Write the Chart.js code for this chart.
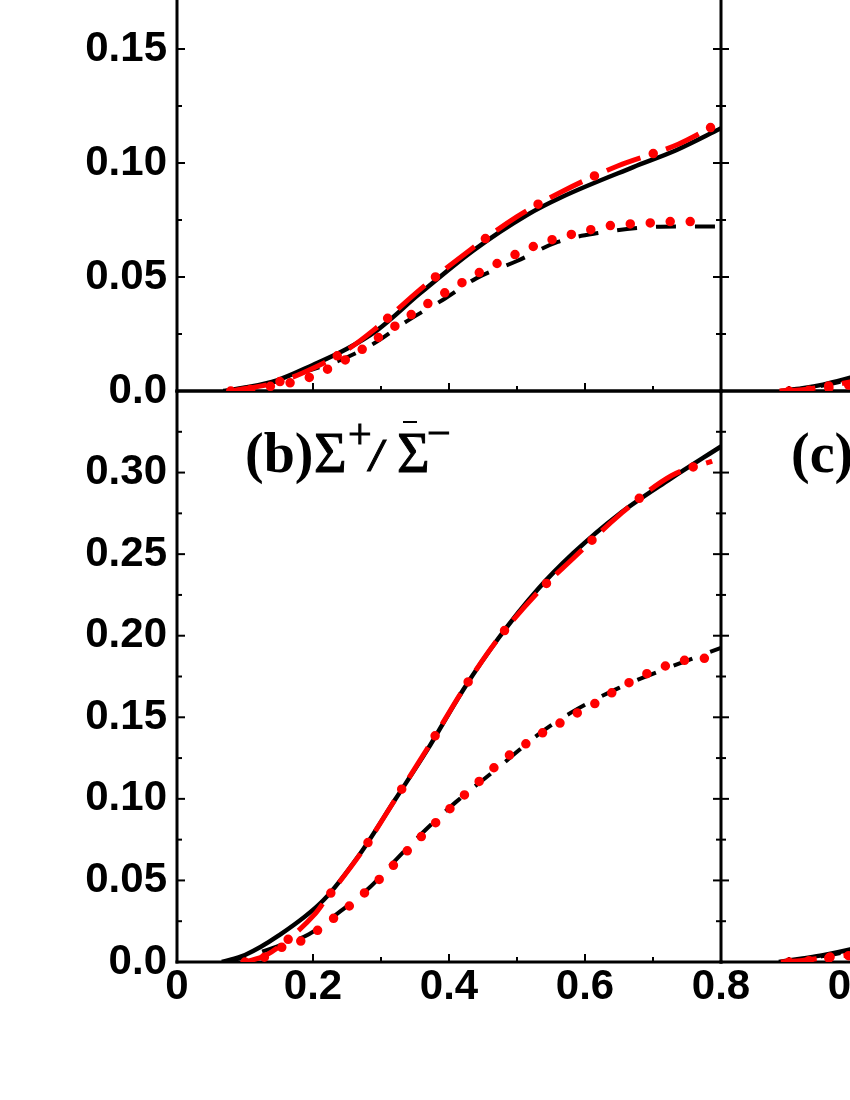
<!DOCTYPE html>
<html><head><meta charset="utf-8">
<script src="https://cdn.jsdelivr.net/npm/chart.js@4.4.1/dist/chart.umd.min.js"></script>
<style>
html,body{margin:0;padding:0;width:850px;height:1100px;overflow:hidden;background:#fff;position:relative;}
canvas{position:absolute;}
.t{position:absolute;font-family:'Liberation Serif','Times New Roman',serif;line-height:1;white-space:nowrap;color:#000;z-index:10;}
.s{-webkit-text-stroke:1px #000;}
.bar{position:absolute;border-top:2px solid #000;z-index:10;}
</style></head><body>
<canvas id="tl" width="761" height="556" style="left:0;top:-115px;z-index:2"></canvas>
<canvas id="bl" width="761" height="759" style="left:0;top:341px;z-index:1"></canvas>
<canvas id="tr" width="606" height="556" style="left:700px;top:-115px;z-index:4"></canvas>
<canvas id="br" width="606" height="759" style="left:700px;top:341px;z-index:3"></canvas>

<span class="t" style="left:245px;top:425px;font-size:56px;font-weight:bold;">(b)</span>
<span class="t s" style="left:314px;top:425px;font-size:56px;">Σ</span>
<span class="t s" style="left:348px;top:413px;font-size:42px;">+</span>
<span class="t s" style="left:370px;top:433px;font-size:46px;font-weight:bold;font-style:italic;">/</span>
<span class="t s" style="left:397px;top:425px;font-size:56px;">Σ</span>
<div class="bar" style="left:403px;top:421px;width:14px;"></div>
<span class="t s" style="left:427px;top:412px;font-size:42px;">−</span>
<span class="t" style="left:791px;top:425px;font-size:56px;font-weight:bold;">(c)</span>

<script>
// ---------- data ----------
const xTickValues = [0, 0.2, 0.4, 0.6, 0.8];

// panel (a) top-left
const aSolidX = [0.068, 0.10, 0.147, 0.199, 0.25, 0.294, 0.357, 0.436, 0.514, 0.566, 0.671, 0.734, 0.80];
const aSolidY = [0, 0.0015, 0.0047, 0.0113, 0.0185, 0.0266, 0.0427, 0.0617, 0.0771, 0.0851, 0.0982, 0.1056, 0.1152];
const aDashDotX = [0.08, 0.15, 0.2, 0.25, 0.29, 0.359, 0.432, 0.50, 0.565, 0.648, 0.737, 0.797];
const aDashDotY = [0, 0.004, 0.010, 0.018, 0.0269, 0.0449, 0.0621, 0.0765, 0.0873, 0.0987, 0.1082, 0.1175];
const aDashX = [0.07, 0.12, 0.195, 0.24, 0.29, 0.34, 0.39, 0.44, 0.50, 0.56, 0.62, 0.69, 0.744, 0.80];
const aDashY = [0, 0.002, 0.0091, 0.0135, 0.0209, 0.031, 0.0398, 0.0494, 0.057, 0.0654, 0.0693, 0.0718, 0.0722, 0.0722];
const aDotX = [0.079, 0.108, 0.136, 0.165, 0.193, 0.22, 0.245, 0.27, 0.294, 0.317, 0.341, 0.365, 0.39, 0.415, 0.44, 0.466, 0.492, 0.525, 0.552, 0.58, 0.609, 0.638, 0.667, 0.696, 0.725, 0.754, 0.782];
const aDotY = [0, 0.0006, 0.002, 0.0035, 0.0058, 0.0094, 0.0132, 0.0178, 0.023, 0.0277, 0.0328, 0.0376, 0.0424, 0.0468, 0.0512, 0.0552, 0.0591, 0.0635, 0.0664, 0.0687, 0.0708, 0.0726, 0.0733, 0.0737, 0.0743, 0.0743, 0.0752];

// panel (b) bottom-left
const bSolidX = [0.066, 0.10, 0.147, 0.2156, 0.268, 0.3206, 0.368, 0.421, 0.473, 0.530, 0.583, 0.649, 0.724, 0.80];
const bSolidY = [0, 0.0043, 0.0155, 0.038, 0.0656, 0.0994, 0.130, 0.1669, 0.1986, 0.2282, 0.2507, 0.2742, 0.2957, 0.316];
const bDashDotX = [0.10, 0.13, 0.168, 0.202, 0.2166, 0.272, 0.322, 0.3715, 0.419, 0.472, 0.532, 0.582, 0.65, 0.7276, 0.787];
const bDashDotY = [0, 0.004, 0.0155, 0.029, 0.037, 0.0677, 0.1004, 0.1331, 0.1658, 0.198, 0.2272, 0.2472, 0.2738, 0.2982, 0.307];
const bDashX = [0.07, 0.10, 0.15, 0.194, 0.24, 0.284, 0.325, 0.368, 0.41, 0.472, 0.533, 0.58, 0.65, 0.72, 0.80];
const bDashY = [0, 0.003, 0.010, 0.017, 0.031, 0.046, 0.064, 0.082, 0.098, 0.119, 0.140, 0.153, 0.168, 0.180, 0.1925];
const bDotX = [0.10, 0.129, 0.154, 0.1825, 0.206, 0.229, 0.251, 0.274, 0.2955, 0.3165, 0.336, 0.357, 0.377, 0.398, 0.419, 0.44, 0.461, 0.483, 0.507, 0.531, 0.545, 0.57, 0.595, 0.62, 0.645, 0.67, 0.696, 0.7235, 0.751, 0.78];
const bDotY = [0, 0.003, 0.009, 0.0129, 0.0192, 0.0264, 0.0335, 0.0417, 0.0499, 0.0585, 0.067, 0.0759, 0.084, 0.0926, 0.101, 0.109, 0.1172, 0.125, 0.132, 0.1387, 0.1423, 0.148, 0.1542, 0.1597, 0.1665, 0.1724, 0.1777, 0.1822, 0.1853, 0.1863];

// top-right panel (visible part only)
const trSolidX = [0.088, 0.12, 0.15, 0.19, 0.2];
const trSolidY = [0, 0.0012, 0.0028, 0.0058, 0.0066];
const trDashDotX = [0.086, 0.12, 0.15, 0.19, 0.2];
const trDashDotY = [0, 0.0006, 0.0018, 0.004, 0.0047];
const trDashX = [0.09, 0.12, 0.15, 0.19, 0.2];
const trDashY = [0, 0.001, 0.0024, 0.005, 0.0058];
const trDotX = [0.1, 0.129, 0.158, 0.184, 0.2];
const trDotY = [0, 0.0003, 0.0013, 0.0024, 0.0032];

// panel (c) bottom-right (visible part only)
const brSolidX = [0.085, 0.12, 0.15, 0.19, 0.2];
const brSolidY = [0, 0.0022, 0.0042, 0.0077, 0.0088];
const brDashDotX = [0.088, 0.12, 0.15, 0.19, 0.2];
const brDashDotY = [0, 0.001, 0.0025, 0.0045, 0.0052];
const brDashX = [0.09, 0.12, 0.15, 0.19, 0.2];
const brDashY = [0, 0.0018, 0.0036, 0.0068, 0.0078];
const brDotX = [0.1, 0.129, 0.156, 0.184, 0.2];
const brDotY = [0, 0.0008, 0.0023, 0.0037, 0.0046];

// ---------- helpers ----------
const RED = '#ff0000', BLACK = '#000000';
const tickFont = {family: "'Liberation Sans', Arial, sans-serif", size: 42, weight: 'bold'};
function pts(xs, ys) { return xs.map((x, i) => ({x: x, y: ys[i]})); }

function datasets(solidX, solidY, ddX, ddY, dashX, dashY, dotX, dotY) {
  const common = {pointRadius: 0, fill: false, cubicInterpolationMode: 'monotone'};
  return [
    Object.assign({data: pts(dotX, dotY), borderColor: RED, borderWidth: 9.5, borderDash: [0, 20], borderCapStyle: 'round'}, common),
    Object.assign({data: pts(ddX, ddY), borderColor: RED, borderWidth: 9.5, borderDash: [0, 63], borderDashOffset: 13.5, borderCapStyle: 'round'}, common),
    Object.assign({data: pts(ddX, ddY), borderColor: RED, borderWidth: 5, borderDash: [36, 27], borderCapStyle: 'butt'}, common),
    Object.assign({data: pts(dashX, dashY), borderColor: BLACK, borderWidth: 4, borderDash: [20, 19], borderCapStyle: 'butt'}, common),
    Object.assign({data: pts(solidX, solidY), borderColor: BLACK, borderWidth: 4.5}, common)
  ];
}

const framePlugin = {
  id: 'frame',
  beforeDatasetsDraw(chart, args, o) {
    const {ctx, chartArea: a, scales: {x, y}} = chart;
    ctx.save();
    ctx.strokeStyle = '#000';
    ctx.lineCap = 'butt';
    ctx.lineWidth = 2;
    const nY = Math.round(y.max / 0.025);
    for (let i = 0; i <= nY; i++) {
      const py = y.getPixelForValue(i * 0.025);
      const len = (i % 2 === 0) ? 8 : 5;
      if (o.tickLeft) { ctx.beginPath(); ctx.moveTo(a.left, py); ctx.lineTo(a.left + len, py); ctx.stroke(); }
      if (o.tickRight) { ctx.beginPath(); ctx.moveTo(a.right, py); ctx.lineTo(a.right - len, py); ctx.stroke(); }
    }
    for (let i = 0; i <= 8; i++) {
      const px = x.getPixelForValue(i * 0.1);
      const len = (i % 2 === 0) ? 8 : 5;
      ctx.beginPath(); ctx.moveTo(px, a.bottom); ctx.lineTo(px, a.bottom - len); ctx.stroke();
    }
    ctx.lineWidth = 3;
    const line = (x1, y1, x2, y2) => { ctx.beginPath(); ctx.moveTo(x1, y1); ctx.lineTo(x2, y2); ctx.stroke(); };
    if (o.left) line(a.left, a.top, a.left, a.bottom + 1.5);
    if (o.right) line(a.right, a.top, a.right, a.bottom + 1.5);
    if (o.bottom) line(a.left - 1.5, a.bottom, a.right + 1.5, a.bottom);
    if (o.top) line(a.left - 1.5, a.top, a.right + 1.5, a.top);
    ctx.restore();
  }
};

function makeChart(id, ds, c) {
  new Chart(document.getElementById(id), {
    type: 'line',
    data: {datasets: ds},
    options: {
      responsive: false, animation: false, devicePixelRatio: 1, events: [],
      layout: {padding: c.padding},
      plugins: {legend: {display: false}, tooltip: {enabled: false}, frame: c.frame},
      scales: {
        x: {
          type: 'linear', min: 0, max: 0.8, display: c.showX,
          grid: {display: false, drawTicks: false}, border: {display: false},
          afterBuildTicks: s => { s.ticks = xTickValues.map(v => ({value: v})); },
          ticks: {
            padding: 0, color: '#000', font: tickFont, maxRotation: 0, autoSkip: false,
            callback: v => (v === 0 ? (c.hideX0 ? '' : '0') : v.toFixed(1))
          },
          afterFit: s => { if (c.showX) s.height = 70; }
        },
        y: {
          type: 'linear', min: 0, max: c.ymax, display: c.showY,
          grid: {display: false, drawTicks: false}, border: {display: false},
          ticks: {
            stepSize: 0.05, padding: 10, color: '#000', font: tickFont,
            callback: v => (v > c.ylabelMax + 1e-9 ? '' : (v === 0 ? '0.0' : v.toFixed(2)))
          },
          afterFit: s => { if (c.showY) s.width = 177; }
        }
      }
    },
    plugins: [framePlugin]
  });
}

makeChart('tl', datasets(aSolidX, aSolidY, aDashDotX, aDashDotY, aDashX, aDashY, aDotX, aDotY), {
  padding: {top: 50, bottom: 50, left: 0, right: 40}, showX: false, showY: true, ymax: 0.2, ylabelMax: 0.2,
  frame: {left: true, right: true, bottom: true, top: false, tickLeft: true, tickRight: true}
});
makeChart('bl', datasets(bSolidX, bSolidY, bDashDotX, bDashDotY, bDashX, bDashY, bDotX, bDotY), {
  padding: {top: 50, bottom: 68, left: 0, right: 40}, showX: true, showY: true, ymax: 0.35, ylabelMax: 0.30,
  frame: {left: true, right: true, bottom: true, top: true, tickLeft: true, tickRight: true}
});
makeChart('tr', datasets(trSolidX, trSolidY, trDashDotX, trDashDotY, trDashX, trDashY, trDotX, trDotY), {
  padding: {top: 50, bottom: 50, left: 21, right: 41}, showX: false, showY: false, ymax: 0.2, ylabelMax: 0.2,
  frame: {left: false, right: false, bottom: true, top: false, tickLeft: true, tickRight: false}
});
makeChart('br', datasets(brSolidX, brSolidY, brDashDotX, brDashDotY, brDashX, brDashY, brDotX, brDotY), {
  padding: {top: 50, bottom: 68, left: 21, right: 41}, showX: true, showY: false, ymax: 0.35, ylabelMax: 0.30, hideX0: true,
  frame: {left: false, right: false, bottom: true, top: true, tickLeft: true, tickRight: false}
});
</script>
</body></html>
